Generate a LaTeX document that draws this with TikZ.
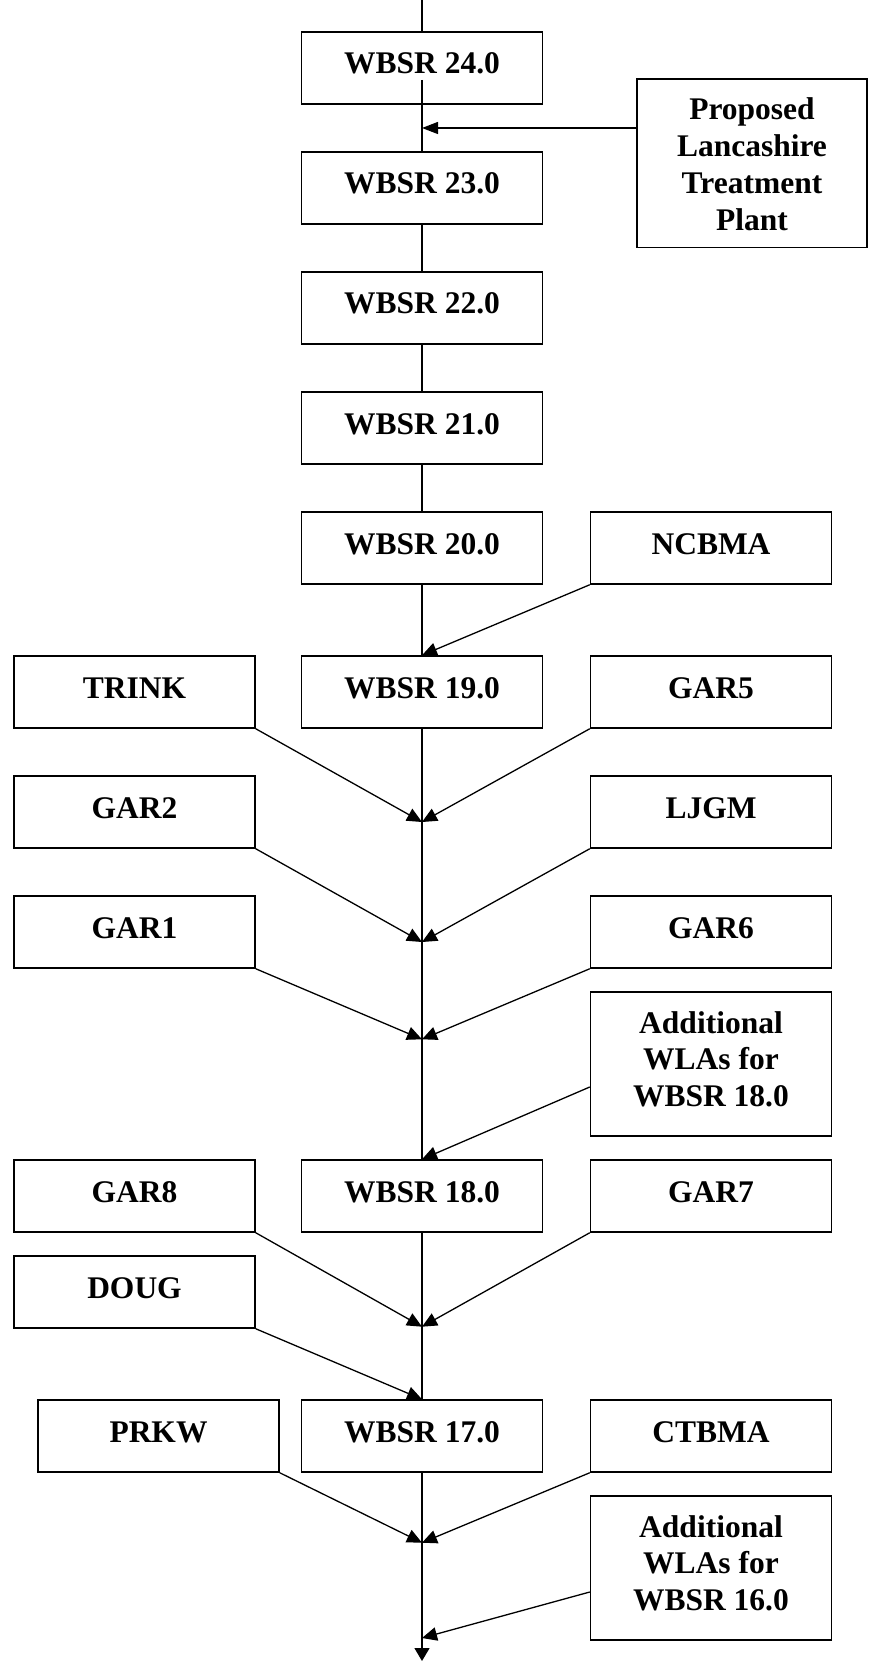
\documentclass[tikz,border=0pt]{standalone}
\usepackage{fontspec}
\setmainfont{Liberation Serif}
\usetikzlibrary{arrows.meta}
\newcommand{\mlines}[1]{\parbox[t]{230pt}{\centering\fontsize{31.5}{36.7}\selectfont\bfseries #1}}
\tikzset{
  box/.style={draw, line width=1.5pt, fill=white, inner xsep=0pt, inner ysep=0pt,
    minimum width=241pt, text height=42pt, text depth=30pt,
    font=\fontsize{31.5}{36.7}\selectfont\bfseries},
  tallbox/.style={box, text height=41pt, text depth=103pt},
  conn/.style={line width=1.3pt},
  arr/.style={conn, -{Triangle[length=15pt,width=13.5pt]}},
}
\begin{document}
\begin{tikzpicture}[x=1pt,y=-1pt]
\useasboundingbox (0,0) rectangle (868,1661);
% spine column
\node[box] (w24) at (422,68) {WBSR 24.0};
\node[box] (w23) at (422,188) {WBSR 23.0};
\node[box] (w22) at (422,308) {WBSR 22.0};
\node[box] (w21) at (422,428) {WBSR 21.0};
\node[box] (w20) at (422,548) {WBSR 20.0};
\node[box] (w19) at (422,692) {WBSR 19.0};
\node[box] (w18) at (422,1196) {WBSR 18.0};
\node[box] (w17) at (422,1436) {WBSR 17.0};
% side boxes
\node[box, minimum width=228pt, text height=41pt, text depth=127.7pt] (prop) at (752,163.35) {\mlines{Proposed\\Lancashire\\Treatment\\Plant}};
\node[box] (ncbma) at (711,548) {NCBMA};
\node[box] (trink) at (134.5,692) {TRINK};
\node[box] (gar5) at (711,692) {GAR5};
\node[box] (gar2) at (134.5,812) {GAR2};
\node[box] (ljgm) at (711,812) {LJGM};
\node[box] (gar1) at (134.5,932) {GAR1};
\node[box] (gar6) at (711,932) {GAR6};
\node[tallbox] (wla18) at (711,1064) {\mlines{Additional\\WLAs for\\WBSR 18.0}};
\node[box] (gar8) at (134.5,1196) {GAR8};
\node[box] (gar7) at (711,1196) {GAR7};
\node[box] (doug) at (134.5,1292) {DOUG};
\node[box] (prkw) at (158.5,1436) {PRKW};
\node[box] (ctbma) at (711,1436) {CTBMA};
\node[tallbox] (wla16) at (711,1568) {\mlines{Additional\\WLAs for\\WBSR 16.0}};
% coordinates on the spine
\coordinate (top) at (422,0);
\coordinate (inner24) at (422,80);
\coordinate (pj) at (422,128);
\coordinate (c1) at (422,822);
\coordinate (c2) at (422,942);
\coordinate (c3) at (422,1039.3);
\coordinate (c4) at (422,1326.7);
\coordinate (c5) at (422,1542.7);
\coordinate (c6) at (422,1638);
\coordinate (bot) at (422,1661);
\coordinate (p18) at (wla18.west |- 0,1087);
\coordinate (p16) at (wla16.west |- 0,1592);
% spine
\draw[conn] (top) -- (w24.north);
\draw[conn] (inner24) -- (w23.north);
\draw[conn] (w23.south) -- (w22.north);
\draw[conn] (w22.south) -- (w21.north);
\draw[conn] (w21.south) -- (w20.north);
\draw[conn] (w20.south) -- (w19.north);
\draw[conn] (w19.south) -- (w18.north);
\draw[conn] (w18.south) -- (w17.north);
\draw[conn, -{Triangle[length=13pt,width=15pt]}] (w17.south) -- (bot);
% inflows
\draw[conn, -{Triangle[length=16pt,width=12pt]}] (prop.west |- pj) -- (pj);
\draw[arr] (ncbma.south west) -- (w19.north);
\draw[arr] (trink.south east) -- (c1);
\draw[arr] (gar5.south west) -- (c1);
\draw[arr] (gar2.south east) -- (c2);
\draw[arr] (ljgm.south west) -- (c2);
\draw[arr] (gar1.south east) -- (c3);
\draw[arr] (gar6.south west) -- (c3);
\draw[arr] (p18) -- (w18.north);
\draw[arr] (gar8.south east) -- (c4);
\draw[arr] (gar7.south west) -- (c4);
\draw[arr] (doug.south east) -- (w17.north);
\draw[arr] (prkw.south east) -- (c5);
\draw[arr] (ctbma.south west) -- (c5);
\draw[arr] (p16) -- (c6);
\end{tikzpicture}
\end{document}
